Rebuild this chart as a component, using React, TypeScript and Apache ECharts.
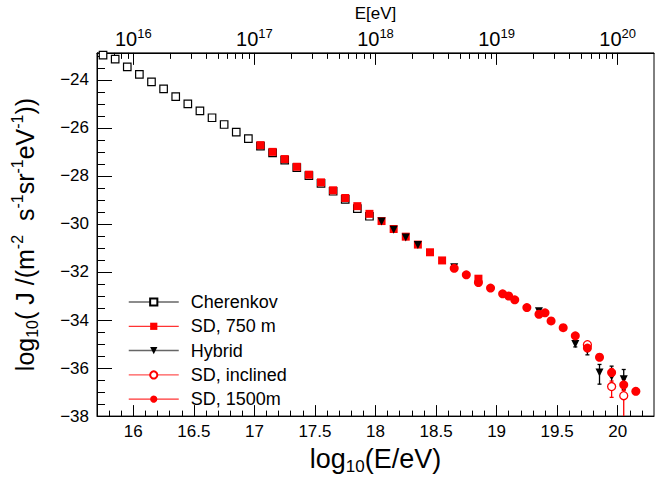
import { useEffect, useRef } from 'react';
import * as echarts from 'echarts';

const FONT = '"Liberation Sans", Arial, Helvetica, sans-serif';

const X_MIN = 15.7;
const X_MAX = 20.3;
const Y_MIN = -38;
const Y_MAX = -22.88;

// tick labels
const xMajorTicks = [16, 16.5, 17, 17.5, 18, 18.5, 19, 19.5, 20];
const yMajorTicks = [-38, -36, -34, -32, -30, -28, -26, -24];
const topMajorTicks = [16, 17, 18, 19, 20];

const xMinorTicks: number[] = [];
for (let i = 158; i <= 202; i++) xMinorTicks.push(i / 10);
const yMinorTicks: number[] = [];
for (let i = -76; i <= -46; i++) yMinorTicks.push(i / 2);
const topMinorTicks: number[] = [];
for (let n = 15; n <= 20; n++) {
  for (let k = 2; k <= 9; k++) {
    const v = n + Math.log10(k);
    if (v > X_MIN && v < X_MAX) topMinorTicks.push(v);
  }
}

// series values: [log10(E/eV), log10 J]
const cherenkov = [
  [15.75, -22.97], [15.85, -23.14], [15.95, -23.46], [16.05, -23.77], [16.15, -24.09],
  [16.25, -24.38], [16.35, -24.7], [16.45, -25.0], [16.55, -25.29], [16.65, -25.58],
  [16.75, -25.86], [16.85, -26.18], [16.95, -26.45], [17.05, -26.76], [17.15, -27.04],
  [17.25, -27.34], [17.35, -27.66], [17.45, -27.99], [17.55, -28.31], [17.65, -28.64],
  [17.75, -28.98], [17.85, -29.36], [17.95, -29.68],
];
const sd750 = [
  [17.05, -26.72], [17.15, -27.0], [17.25, -27.3], [17.35, -27.62], [17.45, -27.95],
  [17.55, -28.27], [17.65, -28.6], [17.75, -28.92], [17.85, -29.26], [17.95, -29.58],
  [18.05, -29.88], [18.15, -30.21], [18.25, -30.53], [18.35, -30.86], [18.45, -31.18],
  [18.55, -31.52], [18.85, -32.28],
];
const hybrid = [
  [18.05, -29.9], [18.15, -30.24], [18.25, -30.56], [18.35, -30.88], [18.65, -31.8],
  [19.35, -33.64], [19.65, -35.0], [19.75, -35.25], [19.85, -36.19], [19.95, -36.35],
  [20.05, -36.47],
];
const hybridErr = [
  [19.65, -35.12, -34.9], [19.75, -35.45, -35.05], [19.85, -36.67, -35.85],
  [19.95, -36.75, -35.92], [20.05, -36.9, -36.06],
];
const sdInclined = [
  [19.75, -35.03], [19.95, -36.77], [20.05, -37.15],
];
const sdInclinedErr = [
  [19.75, -35.13, -34.93], [19.95, -37.22, -36.54], [20.05, -38.3, -36.85],
];
const sd1500 = [
  [18.65, -31.85], [18.75, -32.12], [18.85, -32.44], [18.95, -32.67], [19.05, -32.91],
  [19.1, -33.0], [19.15, -33.16], [19.25, -33.48], [19.35, -33.76], [19.4, -33.7],
  [19.45, -34.04], [19.55, -34.32], [19.65, -34.66], [19.75, -35.17], [19.85, -35.55],
  [19.95, -36.19], [20.05, -36.7], [20.15, -36.97],
];
const sd1500Err = [
  [19.85, -35.66, -35.44], [19.95, -36.36, -36.02], [20.05, -36.93, -36.47],
  [20.15, -37.1, -36.84],
];

const legendNames = ['Cherenkov', 'SD, 750 m', 'Hybrid', 'SD, inclined', 'SD, 1500m'];

function errSeries(data: number[][], color: string) {
  return {
    type: 'custom',
    xAxisIndex: 0,
    yAxisIndex: 0,
    data,
    clip: true,
    silent: true,
    encode: { x: 0, y: [1, 2] },
    renderItem: (_params: any, api: any) => {
      const x = api.value(0);
      const p1 = api.coord([x, api.value(1)]);
      const p2 = api.coord([x, api.value(2)]);
      const cap = 2;
      const st = { stroke: color, lineWidth: 1.3 };
      return {
        type: 'group',
        children: [
          { type: 'line', shape: { x1: p1[0], y1: p1[1], x2: p2[0], y2: p2[1] }, style: st },
          { type: 'line', shape: { x1: p1[0] - cap, y1: p1[1], x2: p1[0] + cap, y2: p1[1] }, style: st },
          { type: 'line', shape: { x1: p2[0] - cap, y1: p2[1], x2: p2[0] + cap, y2: p2[1] }, style: st },
        ],
      };
    },
  };
}

function markSeries(name: string, data: number[][], symbol: string, size: number, itemStyle: any, rotate = 0) {
  return {
    type: 'line',
    name,
    data,
    xAxisIndex: 0,
    yAxisIndex: 0,
    symbol,
    symbolSize: size,
    symbolRotate: rotate,
    showSymbol: true,
    showAllSymbol: true,
    clip: true,
    silent: true,
    lineStyle: { opacity: 0, width: 0 },
    itemStyle,
    emphasis: { disabled: true },
  };
}

function titleRich(size: number) {
  const small = Math.round(size * 0.62);
  return {
    a: { fontSize: size, fontFamily: FONT, color: '#000', lineHeight: size + 6 },
    sub: { fontSize: small, fontFamily: FONT, color: '#000', lineHeight: small, verticalAlign: 'bottom' },
    sup: { fontSize: small, fontFamily: FONT, color: '#000', lineHeight: small, verticalAlign: 'top' },
  };
}

export default function App() {
  const ref = useRef<HTMLDivElement>(null);
  useEffect(() => {
    if (!ref.current) return;
    const chart = echarts.init(ref.current, undefined, { renderer: 'svg' });
    const tickLine = { color: '#000', width: 1 };
    const option: any = {
      animation: false,
      backgroundColor: '#fff',
      grid: {
        left: 97, top: 48, width: 557, height: 369.5,
        show: true, borderColor: '#000', borderWidth: 1, backgroundColor: 'transparent',
        containLabel: false,
      },
      legend: {
        orient: 'vertical',
        left: 128,
        top: 293,
        padding: 0,
        itemWidth: 50,
        itemHeight: 9,
        itemGap: 6.3,
        selectedMode: false,
        textStyle: { fontSize: 18, fontFamily: FONT, color: '#000', padding: [0, 0, 0, 7] },
        data: [
          { name: legendNames[0], lineStyle: { color: '#666', width: 1.5, opacity: 1 } },
          { name: legendNames[1], lineStyle: { color: '#f33', width: 1.3, opacity: 1 } },
          { name: legendNames[2], lineStyle: { color: '#666', width: 1.5, opacity: 1 } },
          { name: legendNames[3], lineStyle: { color: '#f55', width: 1.3, opacity: 1 } },
          { name: legendNames[4], lineStyle: { color: '#f33', width: 1.3, opacity: 1 } },
        ],
      },
      xAxis: [
        {
          type: 'value', position: 'bottom', min: X_MIN, max: X_MAX,
          axisLine: { show: true, onZero: false, lineStyle: tickLine },
          axisTick: { show: true, inside: true, length: 11, customValues: xMajorTicks, lineStyle: tickLine },
          axisLabel: {
            customValues: xMajorTicks, fontSize: 17, fontFamily: FONT, color: '#000', margin: 7,
            formatter: (v: number) => String(v),
          },
          splitLine: { show: false },
          name: '{a|log}{sub|10}{a|(E/eV)}',
          nameLocation: 'middle',
          nameGap: 21,
          nameTextStyle: { rich: titleRich(27) },
        },
        {
          type: 'value', position: 'bottom', min: X_MIN, max: X_MAX,
          axisLine: { show: false, onZero: false },
          axisTick: { show: true, inside: true, length: 5.5, customValues: xMinorTicks, lineStyle: tickLine },
          axisLabel: { show: false },
          splitLine: { show: false },
        },
        {
          type: 'value', position: 'top', min: X_MIN, max: X_MAX,
          axisLine: { show: true, onZero: false, lineStyle: tickLine },
          axisTick: { show: true, inside: true, length: 12, customValues: topMajorTicks, lineStyle: tickLine },
          axisLabel: {
            customValues: topMajorTicks, margin: 2, color: '#000',
            formatter: (v: number) => `{b|10}{s|${v}}`,
            rich: {
              b: { fontSize: 20, fontFamily: FONT, color: '#000', lineHeight: 24 },
              s: { fontSize: 13, fontFamily: FONT, color: '#000', lineHeight: 13, verticalAlign: 'top' },
            },
          },
          splitLine: { show: false },
          name: 'E[eV]',
          nameLocation: 'middle',
          nameGap: 27,
          nameTextStyle: { fontSize: 17, fontFamily: FONT, color: '#000' },
        },
        {
          type: 'value', position: 'top', min: X_MIN, max: X_MAX,
          axisLine: { show: false, onZero: false },
          axisTick: { show: true, inside: true, length: 6, customValues: topMinorTicks, lineStyle: tickLine },
          axisLabel: { show: false },
          splitLine: { show: false },
        },
      ],
      yAxis: [
        {
          type: 'value', position: 'left', min: Y_MIN, max: Y_MAX,
          axisLine: { show: true, onZero: false, lineStyle: tickLine },
          axisTick: { show: true, inside: true, length: 15, customValues: yMajorTicks, lineStyle: tickLine },
          axisLabel: {
            customValues: yMajorTicks, fontSize: 17, fontFamily: FONT, color: '#000', margin: 8,
            formatter: (v: number) => (v < 0 ? '\u2212' : '') + Math.abs(v),
          },
          splitLine: { show: false },
          name: '{a|log}{sub|10}{a|( J /(m}{sup|-2}{a|  s}{sup|-1}{a|sr}{sup|-1}{a|eV}{sup|-1}{a|))}',
          nameLocation: 'middle',
          nameRotate: 90,
          nameGap: 57,
          nameTextStyle: { rich: titleRich(25) },
        },
        {
          type: 'value', position: 'left', min: Y_MIN, max: Y_MAX,
          axisLine: { show: false, onZero: false },
          axisTick: { show: true, inside: true, length: 8, customValues: yMinorTicks, lineStyle: tickLine },
          axisLabel: { show: false },
          splitLine: { show: false },
        },
      ],
      series: [
        markSeries(legendNames[0], cherenkov, 'rect', 7.5, { color: '#fff', borderColor: '#000', borderWidth: 1.2 }),
        markSeries(legendNames[1], sd750, 'rect', 8, { color: '#f00', borderWidth: 0 }),
        errSeries(hybridErr, '#000'),
        markSeries(legendNames[2], hybrid, 'triangle', 8, { color: '#000', borderWidth: 0 }, 180),
        errSeries(sdInclinedErr, '#f00'),
        markSeries(legendNames[3], sdInclined, 'circle', 8, { color: '#fff', borderColor: '#f00', borderWidth: 1.3 }),
        errSeries(sd1500Err, '#f00'),
        markSeries(legendNames[4], sd1500, 'circle', 9, { color: '#f00', borderWidth: 0 }),
      ],
    };
    chart.setOption(option);
    return () => chart.dispose();
  }, []);
  return <div ref={ref} style={{ position: 'absolute', left: 0, top: 0, width: 655, height: 480 }} />;
}
